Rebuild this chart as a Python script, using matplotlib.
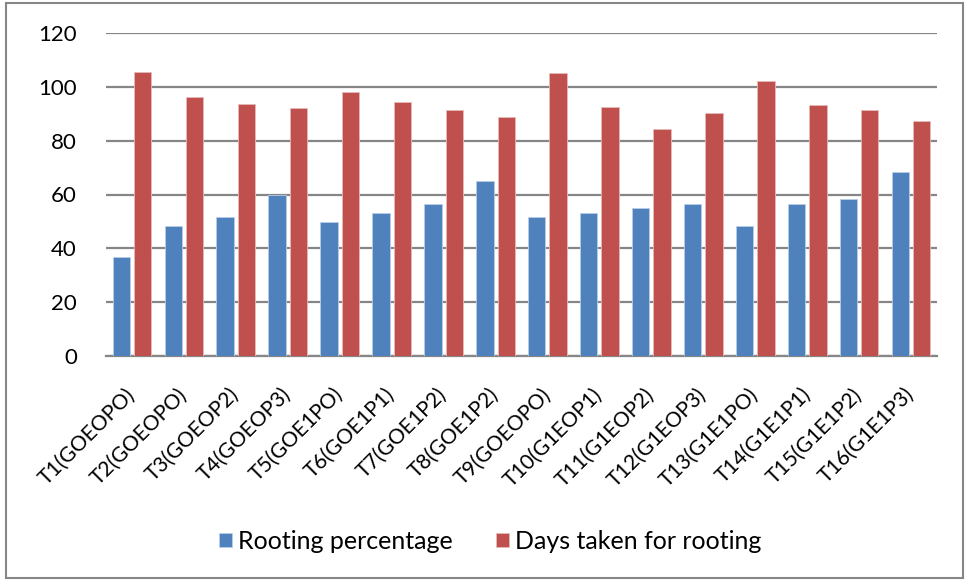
import matplotlib
matplotlib.use("Agg")
import matplotlib.pyplot as plt
from matplotlib.patches import Rectangle
from matplotlib.transforms import ScaledTranslation
import numpy as np

categories = ["T1(GOEOPO)", "T2(GOEOPO)", "T3(GOEOP2)", "T4(GOEOP3)", "T5(GOE1PO)",
              "T6(GOE1P1)", "T7(GOE1P2)", "T8(GOE1P2)", "T9(GOEOPO)", "T10(G1EOP1)",
              "T11(G1EOP2)", "T12(G1EOP3)", "T13(G1E1PO)", "T14(G1E1P1)", "T15(G1E1P2)",
              "T16(G1E1P3)"]
rooting_percentage = [36.6, 48.2, 51.6, 59.9, 49.8, 53.2, 56.5, 64.9,
                      51.6, 53.2, 54.9, 56.5, 48.2, 56.5, 58.3, 68.2]
days_taken = [105.6, 96.3, 93.8, 92.2, 98.1, 94.2, 91.4, 88.9,
              105.3, 92.6, 84.3, 90.3, 102.3, 93.4, 91.4, 87.3]
yticks = [0, 20, 40, 60, 80, 100, 120]

plt.rcParams['font.family'] = ['Lato', 'DejaVu Sans']

fig = plt.figure(figsize=(9.69, 5.8), dpi=100)
ax = fig.add_axes([106/969, 1-356/580, (937-106)/969, (356-33)/580])

x = np.arange(len(categories))
w = 0.335
off = 0.206
ax.bar(x - off, rooting_percentage, w, color='#4F81BD', edgecolor='#B9CDE5', linewidth=0.6,
       label='Rooting percentage', zorder=3)
ax.bar(x + off, days_taken, w, color='#C0504D', edgecolor='#E6B9B8', linewidth=0.6,
       label='Days taken for rooting', zorder=3)

ax.set_xlim(-0.5, len(categories) - 0.5)
ax.set_ylim(0, 120)
ax.set_yticks(yticks)
ax.yaxis.grid(True, color='#868686', linewidth=1.6, zorder=0)
ax.set_axisbelow(True)
for s in ['top', 'right', 'left']:
    ax.spines[s].set_visible(False)
ax.spines['bottom'].set_color('#868686')
ax.spines['bottom'].set_linewidth(1.6)
ax.tick_params(axis='y', length=0, pad=21, labelsize=16)
ax.tick_params(axis='x', length=0, pad=19, labelsize=15.2)
ax.set_xticks(x)
ax.set_xticklabels(categories, rotation=45, ha='right', rotation_mode='anchor')
shift = ScaledTranslation(-7/100, -2/100, fig.dpi_scale_trans)
for lbl in ax.get_xticklabels():
    lbl.set_transform(lbl.get_transform() + shift)

fig.legend(loc='center', bbox_to_anchor=(0.506, 0.066), ncol=2, frameon=False,
           fontsize=18, handlelength=0.5, handleheight=0.5, columnspacing=1.75,
           handletextpad=0.25)

fig.patches.append(Rectangle((6/969, 2/580), 957/969, 575/580, transform=fig.transFigure,
                             fill=False, edgecolor='#868686', linewidth=1.5))

fig.savefig('out.png', dpi=100)
